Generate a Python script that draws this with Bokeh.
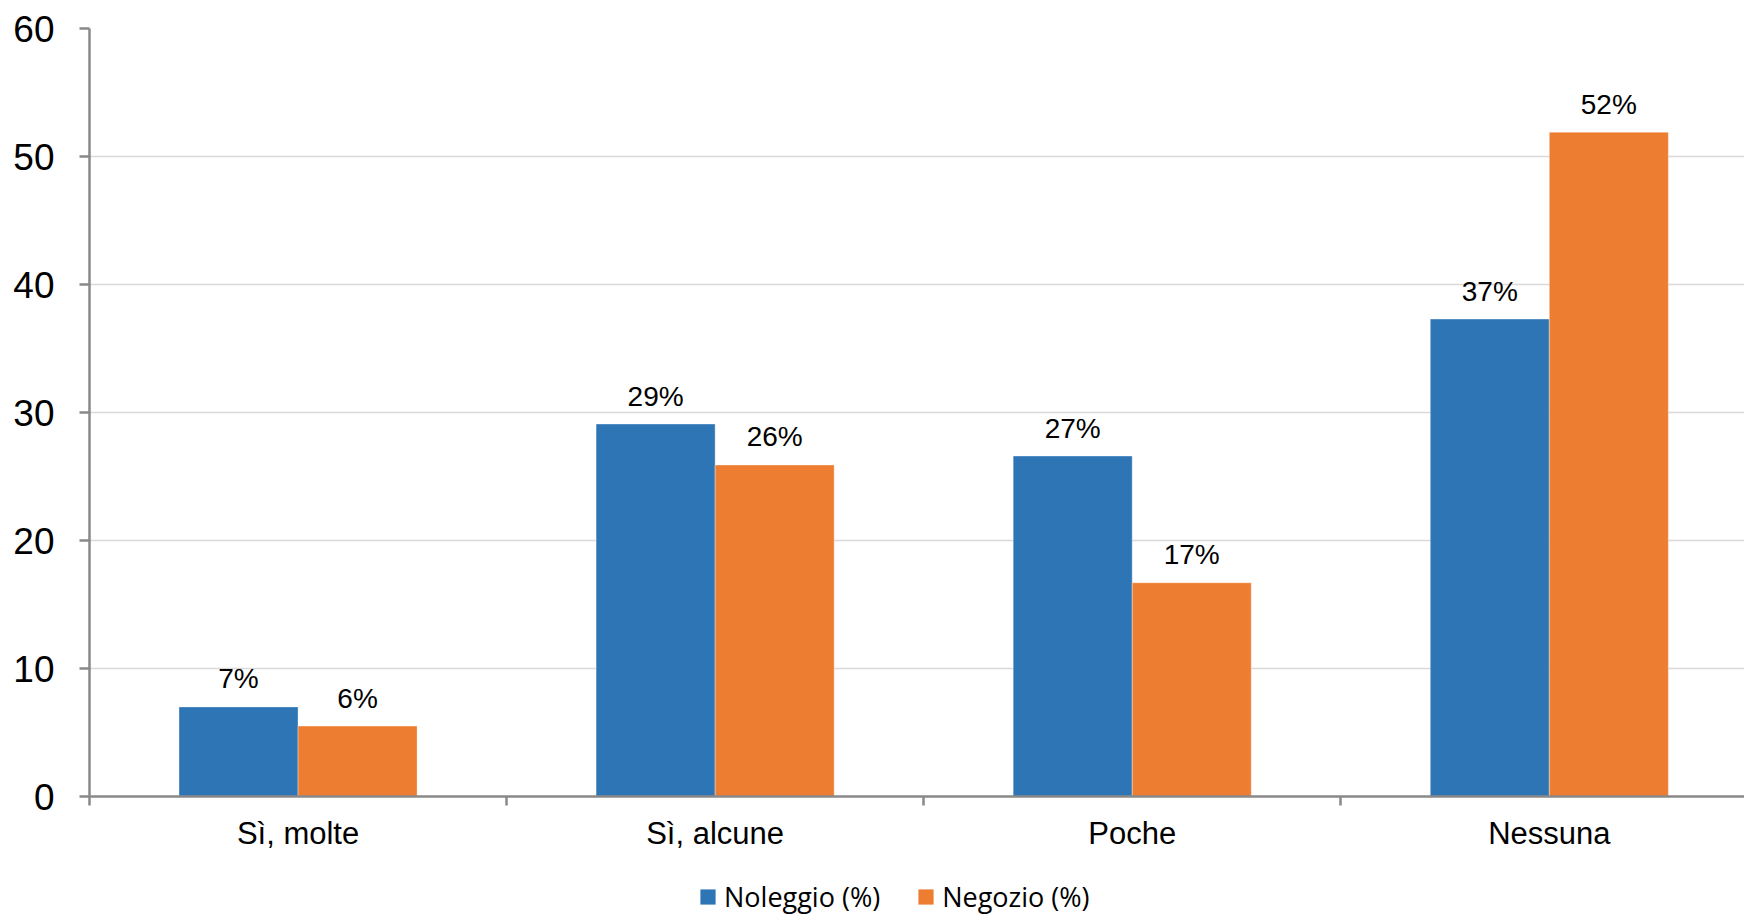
from bokeh.plotting import figure
from bokeh.models import ColumnDataSource, Range1d, FixedTicker, Legend, LegendItem
from bokeh.layouts import column
from bokeh.embed import file_html
from bokeh.resources import INLINE
from bokeh.core.properties import value

# ---- data ----
categories = ["Sì, molte", "Sì, alcune", "Poche", "Nessuna"]
series_names = ["Noleggio (%)", "Negozio (%)"]
noleggio = [7.0, 29.1, 26.6, 37.3]
negozio = [5.5, 25.9, 16.7, 51.9]
noleggio_labels = ["7%", "29%", "27%", "37%"]
negozio_labels = ["6%", "26%", "17%", "52%"]
y_ticks = [0, 10, 20, 30, 40, 50, 60]

BLUE = "#2E75B6"
ORANGE = "#ED7D31"
AXIS = "#898989"
FONT = "Liberation Sans"

bar_w = 0.2854
centers = [i + 0.5 for i in range(len(categories))]
src_a = ColumnDataSource(dict(x=[c - bar_w / 2 for c in centers], top=noleggio, lab=noleggio_labels))
src_b = ColumnDataSource(dict(x=[c + bar_w / 2 for c in centers], top=negozio, lab=negozio_labels))

H1 = 874
p = figure(width=1744, height=H1, x_range=Range1d(0, 3.968), y_range=Range1d(0, 60),
           output_backend="svg", toolbar_location=None, tools="",
           min_border_left=89, min_border_right=0, min_border_top=28, min_border_bottom=H1 - 28 - 768)
p.outline_line_color = None
p.background_fill_color = "white"
p.border_fill_color = "white"

r1 = p.vbar(x="x", top="top", width=bar_w, bottom=0, source=src_a, fill_color=BLUE,
            line_color="white", line_alpha=0.35, line_width=1)
r2 = p.vbar(x="x", top="top", width=bar_w, bottom=0, source=src_b, fill_color=ORANGE,
            line_color="white", line_alpha=0.35, line_width=1)

for s in (src_a, src_b):
    p.text(x="x", y="top", text="lab", source=s, text_font=value(FONT), text_font_size="28px",
           text_align="center", text_baseline="alphabetic", y_offset=-28, text_color="black")

# x axis
xa = p.xaxis[0]
xa.ticker = FixedTicker(ticks=centers, minor_ticks=list(range(len(categories) + 1)))
xa.major_label_overrides = {c: cat for c, cat in zip(centers, categories)}
xa.major_tick_line_color = None
xa.major_tick_out = 9
xa.major_tick_in = 0
xa.minor_tick_out = 9
xa.minor_tick_in = 0
xa.minor_tick_line_color = AXIS
xa.minor_tick_line_width = 2.5
xa.axis_line_color = AXIS
xa.axis_line_width = 2.5
xa.major_label_standoff = 10
xa.major_label_text_font = FONT
xa.major_label_text_font_size = "31px"
xa.major_label_text_color = "black"

# y axis
ya = p.yaxis[0]
ya.ticker = FixedTicker(ticks=y_ticks)
ya.minor_tick_line_color = None
ya.major_tick_out = 10
ya.major_tick_in = 0
ya.major_tick_line_color = AXIS
ya.major_tick_line_width = 2.5
ya.axis_line_color = AXIS
ya.axis_line_width = 2.5
ya.major_label_standoff = 25
ya.major_label_text_font = FONT
ya.major_label_text_font_size = "37px"
ya.major_label_text_color = "black"

p.xgrid.grid_line_color = None
p.ygrid.ticker = FixedTicker(ticks=y_ticks)
p.ygrid.grid_line_color = "#d9d9d9"
p.ygrid.grid_line_width = 1.5

# legend strip below the chart
H2 = 915 - H1
pl = figure(width=1744, height=H2, x_range=Range1d(0, 1), y_range=Range1d(0, 1),
            x_axis_location=None, y_axis_location=None,
            output_backend="svg", toolbar_location=None, tools="",
            min_border_left=0, min_border_right=0, min_border_top=0, min_border_bottom=0)
pl.grid.visible = False
pl.outline_line_color = None
pl.border_fill_color = "white"
pl.background_fill_color = "white"
# swatch-only renderers, placed outside the visible range of the legend strip
dummy = ColumnDataSource(dict(x=[10.0], top=[1.0]))
d1 = pl.vbar(x="x", top="top", width=0.1, source=dummy, fill_color=BLUE, line_color=None)
d2 = pl.vbar(x="x", top="top", width=0.1, source=dummy, fill_color=ORANGE, line_color=None)
legend = Legend(items=[LegendItem(label=series_names[0], renderers=[d1], index=0),
                       LegendItem(label=series_names[1], renderers=[d2], index=0)],
                location=(609, 0), orientation="horizontal",
                glyph_width=19, glyph_height=19, label_standoff=7, spacing=36,
                padding=0, margin=0, border_line_color=None, background_fill_alpha=0,
                label_text_font="Open Sans", label_text_font_size="27px", label_text_color="black")
pl.add_layout(legend, "center")

layout = column(p, pl, spacing=0)
open("out.html", "w").write(file_html(layout, INLINE))
